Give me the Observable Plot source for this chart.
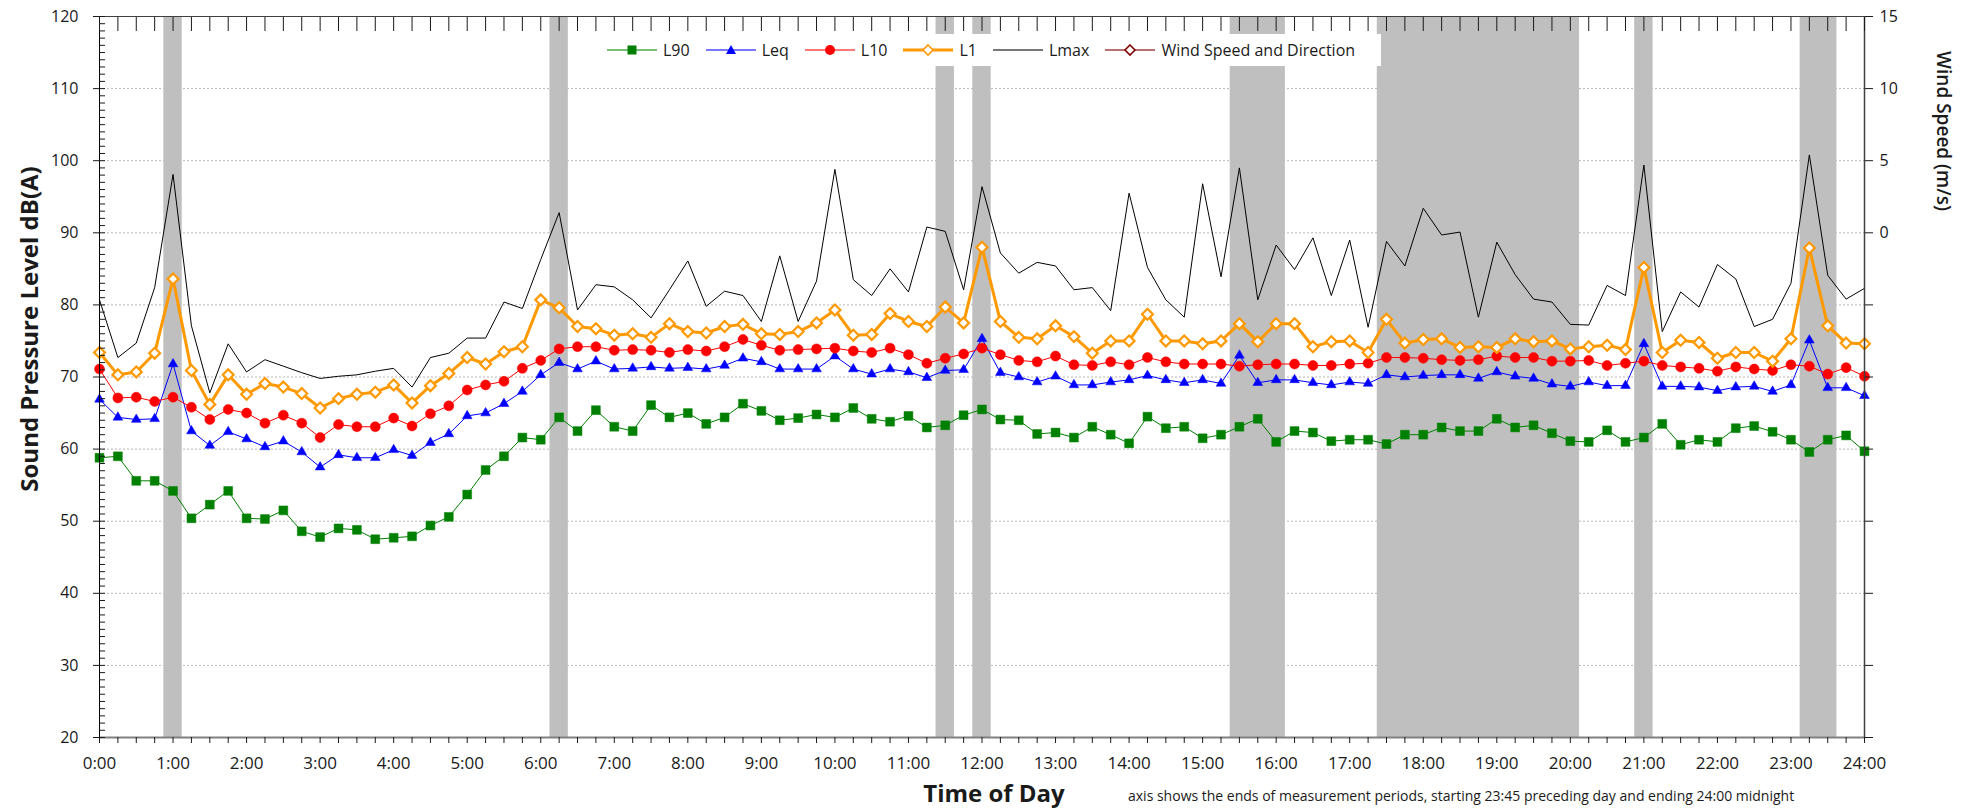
<!DOCTYPE html>
<html><head><meta charset="utf-8">
<script src="https://cdn.jsdelivr.net/npm/d3@7"></script>
<script src="https://cdn.jsdelivr.net/npm/@observablehq/plot@0.6"></script>
<style>
body{margin:0;background:#fff;font-family:"Open Sans",sans-serif;color:#1a1a1a;}
#wrap{position:relative;width:1969px;height:808px;overflow:hidden;background:#fff;}
#wrap svg.plot{position:absolute;left:0;top:0;}
.rot{position:absolute;white-space:nowrap;transform:translate(-50%,-50%) rotate(-90deg);}
#ytitle{left:28px;top:329px;font-weight:700;font-size:24px;}
#y2title{left:1944px;top:131px;font-size:19px;font-weight:600;transform:translate(-50%,-50%) rotate(90deg);}
#xtitle{position:absolute;left:994px;top:792px;transform:translate(-50%,-50%);font-weight:700;font-size:24px;white-space:nowrap;}
#caption{position:absolute;left:1128px;top:795px;transform:translate(0,-50%);font-size:14px;white-space:nowrap;}
#legend{position:absolute;left:603px;top:34px;width:778px;height:32px;background:#fff;display:flex;align-items:center;padding-left:4px;box-sizing:border-box;font-size:16px;}
#legend .item{display:flex;align-items:center;margin-right:16px;}
#legend .item span{margin-left:6px;}
</style>
</head><body>
<div id="wrap">
  <div id="ytitle" class="rot">Sound Pressure Level dB(A)</div>
  <div id="y2title" class="rot">Wind Speed (m/s)</div>
  <div id="xtitle">Time of Day</div>
  <div id="caption">axis shows the ends of measurement periods, starting 23:45 preceding day and ending 24:00 midnight</div>
  <div id="legend"></div>
</div>
<script>
// ---- data (15-minute periods, index 0 = 0:00 ... 96 = 24:00) ----
const hourLabels = ["0:00","1:00","2:00","3:00","4:00","5:00","6:00","7:00","8:00","9:00","10:00","11:00","12:00","13:00","14:00","15:00","16:00","17:00","18:00","19:00","20:00","21:00","22:00","23:00","24:00"];
const periodHours = d3.range(97).map(i => i / 4);

const L90 = [58.8,59.0,55.6,55.6,54.2,50.4,52.3,54.2,50.4,50.3,51.5,48.6,47.8,49.0,48.8,47.5,47.7,
47.9,49.4,50.6,53.7,57.1,59.0,61.6,61.3,64.4,62.5,65.4,63.1,62.5,66.1,64.4,65.0,
63.5,64.4,66.3,65.3,64.0,64.3,64.8,64.4,65.7,64.2,63.8,64.6,63.0,63.3,64.7,65.5,
64.1,64.0,62.1,62.3,61.6,63.1,62.0,60.8,64.5,62.9,63.1,61.5,62.0,63.1,64.2,61.0,62.5,
62.3,61.1,61.3,61.3,60.7,62.0,62.0,63.0,62.5,62.5,64.2,63.0,63.3,62.2,61.1,61.0,
62.6,61.0,61.6,63.5,60.6,61.3,61.0,62.9,63.2,62.4,61.3,59.6,61.3,61.9,59.7];

const Leq = [66.9,64.4,64.1,64.2,71.8,62.5,60.5,62.4,61.4,60.3,61.1,59.6,57.5,59.2,58.8,58.8,59.9,
59.1,60.9,62.1,64.6,65.0,66.3,68.0,70.3,72.0,71.1,72.2,71.1,71.2,71.4,71.2,71.3,
71.1,71.6,72.6,72.1,71.1,71.1,71.1,72.9,71.1,70.4,71.1,70.7,69.9,70.9,71.0,75.3,
70.6,70.0,69.3,70.1,68.9,68.9,69.3,69.6,70.2,69.6,69.2,69.6,69.1,73.0,69.2,69.6,69.6,
69.2,68.9,69.3,69.1,70.3,70.0,70.2,70.3,70.3,69.8,70.7,70.1,69.8,69.0,68.7,69.3,
68.8,68.8,74.6,68.7,68.7,68.6,68.1,68.6,68.7,68.0,68.9,75.1,68.5,68.5,67.4];

const L10 = [71.1,67.1,67.2,66.6,67.2,65.8,64.1,65.5,65.0,63.6,64.7,63.6,61.6,63.4,63.1,63.1,64.3,
63.2,64.9,66.0,68.2,68.9,69.4,71.2,72.3,73.9,74.2,74.2,73.7,73.8,73.7,73.4,73.8,
73.6,74.2,75.2,74.4,73.7,73.8,73.9,74.0,73.6,73.4,74.0,73.1,71.9,72.6,73.2,74.0,
73.1,72.3,72.1,72.9,71.7,71.6,72.1,71.7,72.7,72.1,71.8,71.8,71.8,71.5,71.7,71.8,71.8,
71.6,71.6,71.8,71.9,72.7,72.7,72.6,72.4,72.3,72.4,72.9,72.7,72.7,72.2,72.2,72.3,
71.6,71.9,72.2,71.6,71.4,71.2,70.8,71.4,71.1,70.9,71.7,71.5,70.4,71.3,70.1];

const L1 = [73.4,70.3,70.7,73.3,83.6,70.9,66.2,70.3,67.6,69.1,68.6,67.7,65.7,67.0,67.6,67.9,68.9,
66.4,68.8,70.5,72.7,71.8,73.5,74.2,80.7,79.6,77.0,76.7,75.8,76.0,75.5,77.4,76.3,
76.1,77.0,77.3,76.0,75.9,76.3,77.5,79.3,75.8,75.9,78.8,77.7,77.0,79.7,77.5,88.0,
77.7,75.5,75.3,77.1,75.6,73.3,75.0,75.0,78.7,75.0,75.0,74.6,75.0,77.4,74.9,77.4,77.4,
74.2,74.9,75.0,73.4,78.0,74.7,75.2,75.3,74.1,74.2,74.1,75.3,74.9,75.0,73.9,74.2,
74.4,73.8,85.2,73.4,75.1,74.8,72.6,73.4,73.4,72.2,75.3,87.9,77.1,74.7,74.6];

const Lmax = [80.7,72.7,74.7,82.4,98.1,77.1,67.8,74.6,70.7,72.4,71.5,70.6,69.8,70.1,70.3,70.8,71.2,
68.6,72.7,73.3,75.4,75.4,80.4,79.5,86.3,92.8,79.3,82.8,82.5,80.7,78.2,82.1,86.1,
79.8,81.9,81.3,77.7,86.8,77.7,83.3,98.8,83.5,81.3,85.0,81.8,90.8,90.2,82.1,96.4,
87.2,84.4,85.9,85.4,82.1,82.4,79.2,95.5,85.2,80.7,78.3,96.8,83.9,99.0,80.7,88.3,84.9,
89.3,81.3,89.0,76.9,88.8,85.4,93.4,89.7,90.1,78.3,88.7,84.2,80.8,80.4,77.3,77.2,
82.7,81.3,99.4,76.3,81.8,79.7,85.6,83.6,77.0,78.0,83.0,100.8,84.1,80.8,82.3];

// shaded (excluded) measurement periods, as period-end hours
const shadedPeriods = [1.0, 6.25, 11.5, 12.0, 15.5, 15.75, 16.0,
  17.5, 17.75, 18.0, 18.25, 18.5, 18.75, 19.0, 19.25, 19.5, 19.75, 20.0,
  21.0, 23.25, 23.5];

const dbTicks = [20,30,40,50,60,70,80,90,100,110,120];
const dbGrid = [30,40,50,60,70,80,90,100,110];
const windTicks = [0,5,10,15];           // labelled wind-speed ticks
const windToDb = w => 90 + 2 * w;          // secondary axis: 0 m/s at 90 dB, 15 m/s at 120 dB

const seriesDefs = [
  {name: "L90", values: L90, color: "#008000", legendLine: "#78c078", width: 1, symbol: "square", r: 5},
  {name: "Leq", values: Leq, color: "#0000ff", legendLine: "#7878ff", width: 1, symbol: "triangle", r: 3.6},
  {name: "L10", values: L10, color: "#ff0000", legendLine: "#ff7878", width: 1, symbol: "circle", r: 5},
  {name: "L1", values: L1, color: "#ff9900", legendLine: "#ff9900", width: 3, symbol: "diamond2", r: 4.9, open: true},
  {name: "Lmax", values: Lmax, color: "#000000", legendLine: "#777777", width: 1, symbol: null}
];

const rows = name => {
  const s = seriesDefs.find(d => d.name === name);
  return s.values.map((v, i) => ({t: periodHours[i], v}));
};

// merge consecutive shaded periods into continuous runs (avoids seams)
const shadedRuns = [];
for (const t of shadedPeriods) {
  const last = shadedRuns[shadedRuns.length - 1];
  if (last && Math.abs(t - last.end) < 0.26) last.end = t;
  else shadedRuns.push({start: t, end: t});
}

// ---- marks ----
const marks = [
  Plot.gridY(dbGrid, {stroke: "#b8b8b8", strokeOpacity: 1, strokeDasharray: "2,2"}),
  Plot.rect(shadedRuns, {x1: d => d.start - 0.125, x2: d => d.end + 0.125, fill: "#bfbfbf"})
];
for (const s of seriesDefs) {
  const data = rows(s.name);
  marks.push(Plot.line(data, {x: "t", y: "v", stroke: s.color, strokeWidth: s.width}));
  if (s.symbol) {
    marks.push(Plot.dot(data, {
      x: "t", y: "v", symbol: s.symbol, r: s.r,
      fill: s.open ? "#ffffff" : s.color,
      stroke: s.color, strokeWidth: s.open ? 2.2 : 0.5
    }));
  }
}
marks.push(
  Plot.ruleY([20], {stroke: "#808080", strokeWidth: 2}),
  Plot.ruleX([0], {stroke: "#000"}),
  Plot.ruleX([24], {stroke: "#404040", strokeWidth: 1.5}),
  Plot.ruleY([120], {stroke: "#404040"}),
  // left axis: major ticks (outward + labels) and minor ticks every 1 dB (inward)
  Plot.axisY({anchor: "left", ticks: dbTicks, tickSize: 6, tickPadding: 15, fontSize: 16, label: null, tickFormat: d => String(d)}),
  Plot.axisY({anchor: "left", ticks: d3.range(20, 121, 1), tickSize: 6, dx: 6, text: null, label: null}),
  // right axis: wind speed
  Plot.axisY({anchor: "right", ticks: dbTicks.filter(d => d >= 90), tickSize: 8, tickPadding: 7, fontSize: 16, label: null,
    tickFormat: d => String(windTicks.find(w => windToDb(w) === d))}),
  Plot.axisY({anchor: "right", ticks: dbTicks.filter(d => d < 90), tickSize: 8, text: null, label: null}),
  // bottom axis: 15-minute ticks and hourly labels
  Plot.axisX({anchor: "bottom", ticks: periodHours, tickSize: 6, text: null, label: null}),
  Plot.axisX({anchor: "bottom", ticks: d3.range(0, 25), tickSize: 0, tickPadding: 19, fontSize: 17, label: null,
    tickFormat: h => hourLabels[h]}),
  // top axis: 15-minute ticks hanging into the plot
  Plot.axisX({anchor: "top", ticks: periodHours, tickSize: 14, dy: 14, text: null, label: null})
);

const chart = Plot.plot({
  width: 1969,
  height: 775,
  marginTop: 16,
  marginBottom: 38,
  marginLeft: 99,
  marginRight: 105,
  x: {domain: [0, 24]},
  y: {domain: [20, 120]},
  style: {fontFamily: "'Open Sans', sans-serif", fontSize: "16px", color: "#1a1a1a", background: "transparent"},
  marks
});
chart.classList.add("plot");
const wrap = document.getElementById("wrap");
wrap.insertBefore(chart, wrap.firstChild);

// ---- legend ----
function swatch(s) {
  const line = `<line x1="0" y1="10" x2="50" y2="10" stroke="${s.legendLine}" stroke-width="${s.width === 3 ? 3 : 2}"/>`;
  let m = "";
  if (s.symbol === "square") m = `<rect x="20.5" y="5.5" width="9" height="9" fill="${s.color}"/>`;
  if (s.symbol === "triangle") m = `<polygon points="25,5 30,14 20,14" fill="${s.color}"/>`;
  if (s.symbol === "circle") m = `<circle cx="25" cy="10" r="5" fill="${s.color}"/>`;
  if (s.symbol === "diamond2") m = `<polygon points="25,5 30,10 25,15 20,10" fill="#fff" stroke="${s.color}" stroke-width="1.6"/>`;
  if (s.symbol === "wind") m = `<polygon points="25,5 30,10 25,15 20,10" fill="#fff" stroke="${s.color}" stroke-width="1.6"/>`;
  return `<svg width="50" height="20" viewBox="0 0 50 20">${line}${m}</svg>`;
}
const legendItems = seriesDefs.concat([{name: "Wind Speed and Direction", color: "#800000", legendLine: "#b87070", width: 1, symbol: "wind"}]);
document.getElementById("legend").innerHTML = legendItems
  .map(s => `<div class="item">${swatch(s)}<span>${s.name}</span></div>`).join("");
</script>
</body></html>
